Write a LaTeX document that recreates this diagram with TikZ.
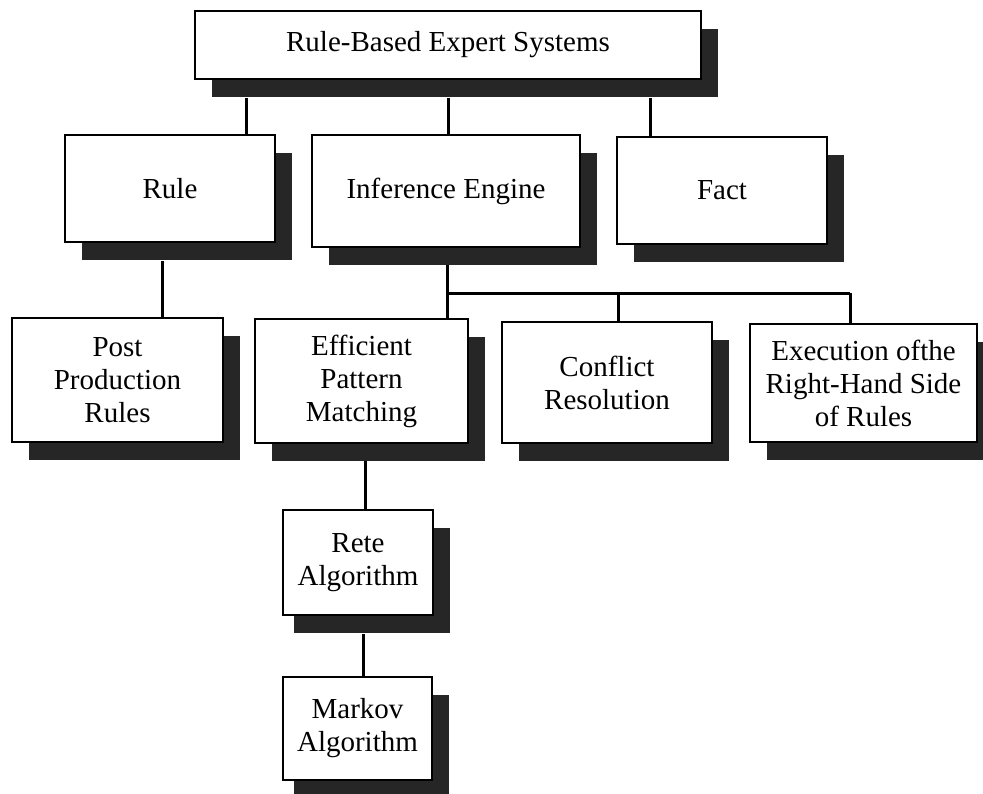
\documentclass[tikz,border=0pt]{standalone}
\usepackage{fontspec}
\setmainfont{Liberation Serif}
\usetikzlibrary{shadows,positioning}
\begin{document}
\begin{tikzpicture}[x=1pt,y=-1pt,
  box/.style={draw=black, line width=2.6pt, fill=white, align=center,
    font=\fontsize{29}{33}\selectfont, inner sep=0pt,
    drop shadow={shadow xshift=17pt, shadow yshift=-18pt, fill=black!85, opacity=1}},
  smallbox/.style={box,
    drop shadow={shadow xshift=11pt, shadow yshift=-18pt, fill=black!85, opacity=1}},
  link/.style={draw=black, line width=3pt}]
\useasboundingbox (0,0) rectangle (983,793);
% nodes
\node[box, minimum width=506pt, minimum height=68pt] (top) at (448,45) {Rule-Based Expert Systems};
\node[box, minimum width=210pt, minimum height=107pt] (rule) at (170,188.5) {Rule};
\node[box, minimum width=268pt, minimum height=112pt] (inf) at (446,191) {Inference Engine};
\node[box, minimum width=210pt, minimum height=107pt] (fact) at (722,190.5) {\raisebox{-8pt}{Fact}};
\node[box, minimum width=211pt, minimum height=124pt] (post) at (117.5,380) {Post\\Production\\Rules};
\node[box, minimum width=213pt, minimum height=124pt] (eff) at (361.5,381) {Efficient\\Pattern\\Matching};
\node[box, minimum width=210pt, minimum height=121pt] (conf) at (607,382.5) {Conflict\\Resolution};
\node[box, minimum width=227pt, minimum height=118pt] (exec) at (863.5,383) {Execution ofthe\\Right-Hand Side\\of Rules};
\node[smallbox, minimum width=150pt, minimum height=105pt] (rete) at (358,562.5) {Rete\\Algorithm};
\node[smallbox, minimum width=149pt, minimum height=103pt] (markov) at (357.5,728.5) {Markov\\Algorithm};
% junction coordinates
\coordinate (jl) at (447,293);
\coordinate (jm) at (618,293);
\coordinate (jr) at (850,293);
% connectors
\draw[link] ([yshift=-18pt]top.south -| 246,0) -- (rule.north -| 246,0);
\draw[link] ([yshift=-18pt]top.south -| 448,0) -- (inf.north -| 448,0);
\draw[link] ([yshift=-18pt]top.south -| 650,0) -- (fact.north -| 650,0);
\draw[link] ([yshift=-18pt]rule.south -| 162,0) -- (post.north -| 162,0);
\draw[link] ([yshift=-17pt]inf.south -| jl) -- (eff.north -| jl);
\draw[link] (jl) -- (jr);
\draw[link] (jm) -- (conf.north -| jm);
\draw[link] (jr) -- (exec.north -| jr);
\draw[link] ([yshift=-17pt]eff.south -| 365,0) -- (rete.north -| 365,0);
\draw[link] ([yshift=-18pt]rete.south -| 363,0) -- (markov.north -| 363,0);
\end{tikzpicture}
\end{document}
